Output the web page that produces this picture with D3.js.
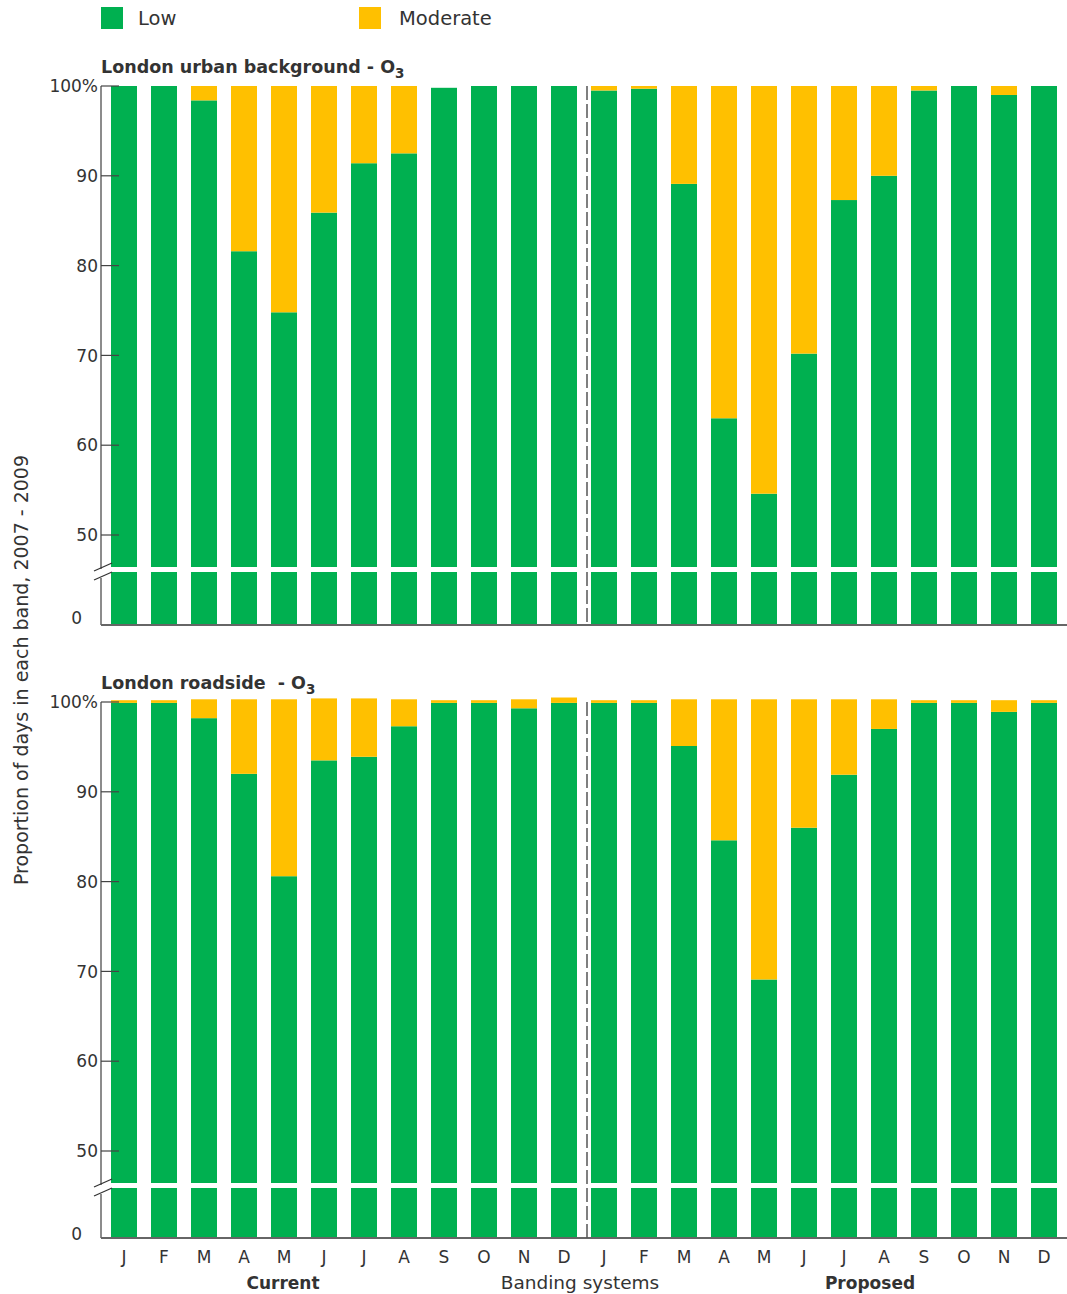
<!DOCTYPE html>
<html><head><meta charset="utf-8">
<script src="https://cdn.jsdelivr.net/npm/d3@7"></script>
<style>body{margin:0;background:#fff}svg{display:block}</style>
</head><body>
<script>
const months = ["J","F","M","A","M","J","J","A","S","O","N","D"];
const systems = ["Current","Proposed"];
const seriesNames = ["Low","Moderate"];
const yTicks = [50,60,70,80,90,100];
const panelTitles = ["London urban background - O","London roadside  - O"];
// Urban background: Current then Proposed (Jan..Dec)
const urbanLow = [100,100,98.4,81.6,74.8,85.9,91.4,92.5,99.8,100,100,100,
                  99.5,99.7,89.1,63.0,54.6,70.2,87.3,90.0,99.5,100,99.0,100];
const urbanMod = [0,0,1.6,18.4,25.2,14.1,8.6,7.5,0,0,0,0,
                  0.5,0.3,10.9,37.0,45.4,29.8,12.7,10.0,0.5,0,1.0,0];
// Roadside
const roadLow = [99.9,99.9,98.2,92.0,80.6,93.5,93.9,97.3,99.9,99.9,99.3,99.9,
                 99.9,99.9,95.1,84.6,69.1,86.0,91.9,97.0,99.9,99.9,98.9,99.9];
const roadMod = [0.3,0.3,2.1,8.3,19.7,6.9,6.5,3.0,0.3,0.3,1.0,0.6,
                 0.3,0.3,5.2,15.7,31.2,14.3,8.4,3.3,0.3,0.3,1.3,0.3];

const W=1067,H=1294;
const GREEN="#00b050", ORANGE="#ffc000", TXT="#333333", AX="#666666";
const FONT="'DejaVu Sans', sans-serif";
const svg=d3.select("body").append("svg").attr("width",W).attr("height",H)
  .style("font-family",FONT);

const cats = d3.range(24);
const x = d3.scaleBand().domain(cats).range([104,1064]).paddingInner(0.35).paddingOuter(0.175);

// legend
const leg = svg.append("g");
[[101,138,GREEN],[359,399,ORANGE]].forEach((p,i)=>{
  leg.append("rect").attr("x",p[0]).attr("y",7).attr("width",22).attr("height",22).attr("fill",p[2]);
  leg.append("text").attr("x",p[1]).attr("y",25).attr("font-size",19.5).attr("fill",TXT).text(seriesNames[i]);
});

function panel(top, low, mod, title, bottom){
  const y = d3.scaleLinear().domain([50,100]).range([top+449,top]);
  const breakTop = top+481, breakBot = top+486;
  const baseY = bottom ? top+536 : top+539;
  const yLow = d3.scaleLinear().domain([0,40]).range([baseY, breakBot]);
  const g = svg.append("g");
  const t = g.append("text").attr("x",101).attr("y",top-13).attr("font-size",17.5)
    .attr("font-weight","bold").attr("fill",TXT).style("white-space","pre");
  t.append("tspan").text(title);
  t.append("tspan").attr("font-size",13.5).attr("dy",5).text("3");
  cats.forEach(i=>{
    const bx=x(i), bw=x.bandwidth();
    g.append("rect").attr("x",bx).attr("y",y(low[i])).attr("width",bw)
      .attr("height",breakTop-y(low[i])).attr("fill",GREEN);
    g.append("rect").attr("x",bx).attr("y",yLow(40)).attr("width",bw)
      .attr("height",yLow(0)-yLow(40)).attr("fill",GREEN);
    if(mod[i]>0){
      g.append("rect").attr("x",bx).attr("y",y(low[i]+mod[i])).attr("width",bw)
        .attr("height",y(low[i])-y(low[i]+mod[i])).attr("fill",ORANGE);
    }
  });
  g.append("line").attr("x1",101).attr("x2",101).attr("y1",top).attr("y2",breakTop+2).attr("stroke",AX).attr("stroke-width",1.5);
  g.append("line").attr("x1",101).attr("x2",101).attr("y1",breakBot+6).attr("y2",baseY).attr("stroke",AX).attr("stroke-width",1.5);
  g.append("line").attr("x1",94).attr("y1",breakTop+4).attr("x2",112).attr("y2",breakTop-4).attr("stroke","#333").attr("stroke-width",1.2);
  g.append("line").attr("x1",94).attr("y1",breakTop+13).attr("x2",112).attr("y2",breakTop+5).attr("stroke","#333").attr("stroke-width",1.2);
  yTicks.forEach(v=>{
    g.append("line").attr("x1",101).attr("x2",119).attr("y1",y(v)).attr("y2",y(v)).attr("stroke","#444").attr("stroke-width",1.2);
    g.append("text").attr("x",98).attr("y",y(v)).attr("dy","0.36em").attr("text-anchor","end")
      .attr("font-size",17).attr("fill",TXT).text(v===100?"100%":v);
  });
  g.append("text").attr("x",82).attr("y",baseY-(bottom?4:7)).attr("dy","0.36em").attr("text-anchor","end")
    .attr("font-size",17).attr("fill",TXT).text("0");
  g.append("line").attr("x1",101).attr("x2",1067).attr("y1",baseY).attr("y2",baseY).attr("stroke",AX).attr("stroke-width",2);
  const sx = x(12)-4;
  g.append("line").attr("x1",sx).attr("x2",sx).attr("y1",top).attr("y2",baseY)
    .attr("stroke","#555").attr("stroke-width",1.5).attr("stroke-dasharray","14,4");
  return baseY;
}
panel(86, urbanLow, urbanMod, panelTitles[0], false);
const baseB = panel(702, roadLow, roadMod, panelTitles[1], true);

cats.forEach(i=>{
  svg.append("text").attr("x",x(i)+x.bandwidth()/2).attr("y",baseB+25).attr("text-anchor","middle")
    .attr("font-size",17).attr("fill",TXT).text(months[i%12]);
});
svg.append("text").attr("x",283).attr("y",baseB+51).attr("text-anchor","middle").attr("font-size",17)
  .attr("font-weight","bold").attr("fill",TXT).text(systems[0]);
svg.append("text").attr("x",580).attr("y",baseB+51).attr("text-anchor","middle").attr("font-size",18.5)
  .attr("fill",TXT).text("Banding systems");
svg.append("text").attr("x",870).attr("y",baseB+51).attr("text-anchor","middle").attr("font-size",17)
  .attr("font-weight","bold").attr("fill",TXT).text(systems[1]);
svg.append("text").attr("transform","translate(28,670) rotate(-90)").attr("text-anchor","middle")
  .attr("font-size",19).attr("fill",TXT).text("Proportion of days in each band, 2007 - 2009");
</script>
</body></html>
